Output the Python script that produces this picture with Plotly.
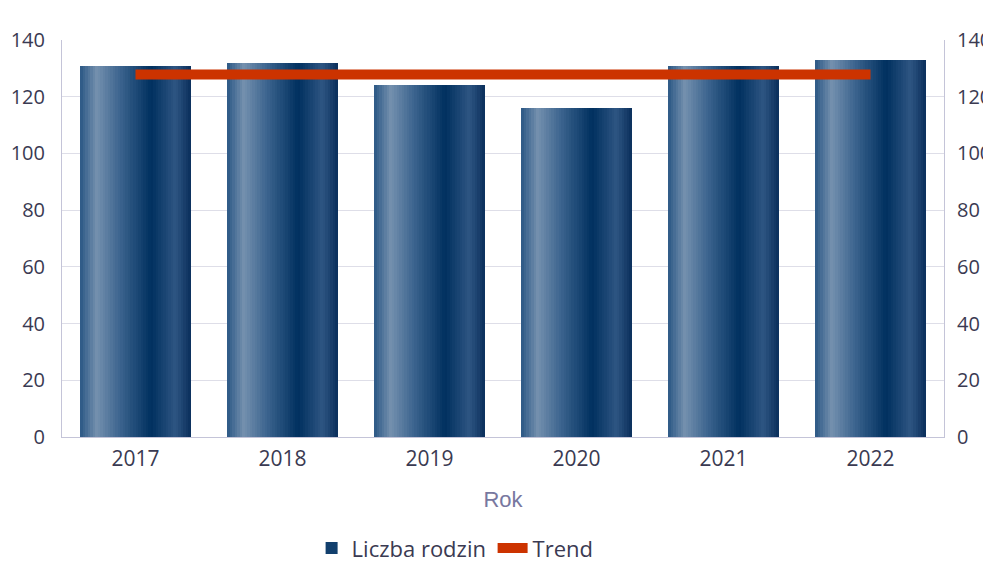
import plotly.graph_objects as go

years = ["2017", "2018", "2019", "2020", "2021", "2022"]
liczba_rodzin = [131, 132, 124, 116, 131, 133]
trend_value = round(sum(liczba_rodzin) / len(liczba_rodzin), 1)
trend_x = [years[0], years[-1]]
trend_y = [trend_value, trend_value]
y_ticks = [0, 20, 40, 60, 80, 100, 120, 140]

# gradient stops across the bar width (fraction, rgb)
stops = [
    (0.00, (44, 88, 133)),
    (0.15, (116, 144, 174)),
    (0.35, (62, 102, 144)),
    (0.64, (0, 48, 95)),
    (0.86, (46, 85, 130)),
    (1.00, (10, 47, 92)),
]


def grad(t):
    for (a, ca), (b, cb) in zip(stops[:-1], stops[1:]):
        if a <= t <= b:
            f = (t - a) / (b - a) if b > a else 0
            c = [round(ca[k] + (cb[k] - ca[k]) * f) for k in range(3)]
            return "rgb(%d,%d,%d)" % tuple(c)
    return "rgb(%d,%d,%d)" % stops[-1][1]


fig = go.Figure()
bar_w = 0.75
n = 44
step = bar_w / n
for i in range(n):
    off = -bar_w / 2 + i * step
    w = min(step * 1.6, bar_w / 2 - off)
    t = (i + 0.5) / n
    fig.add_trace(go.Bar(
        x=years, y=liczba_rodzin, width=w, offset=off,
        marker=dict(color=grad(t), line=dict(width=0)),
        name="Liczba rodzin", legendgroup="bars",
        showlegend=(i == int(n * 0.55)), hoverinfo="skip" if i else None,
    ))

fig.add_trace(go.Scatter(
    x=trend_x, y=trend_y, mode="lines", name="Trend",
    line=dict(color="#cc3300", width=10),
))
fig.add_trace(go.Scatter(
    x=trend_x, y=trend_y, mode="lines", yaxis="y2", showlegend=False,
    line=dict(color="rgba(0,0,0,0)", width=0), hoverinfo="skip",
))

tick_font = dict(family="Open Sans", size=20, color="#3a3a52")
fig.update_layout(
    width=983, height=554,
    margin=dict(l=54, r=47, t=32, b=125, autoexpand=False),
    paper_bgcolor="white", plot_bgcolor="white",
    barmode="overlay", bargap=0,
    font=dict(family="Open Sans", color="#3a3a52"),
    xaxis=dict(
        type="category", showline=True, linecolor="#c4c4d8", linewidth=1,
        showgrid=False, tickfont=dict(family="Open Sans", size=21, color="#3a3a52"),
        ticks="", ticklabelstandoff=3, automargin=False,
        title=dict(text="Rok", font=dict(family="Liberation Sans", size=22, color="#7878a0"), standoff=20),
    ),
    yaxis=dict(
        range=[0, 140], tickvals=y_ticks, showline=True, linecolor="#c4c4d8",
        linewidth=1, gridcolor="#dedee8", gridwidth=1, zeroline=False,
        tickfont=tick_font, ticklabelstandoff=12, automargin=False,
    ),
    yaxis2=dict(
        range=[0, 140], tickvals=y_ticks, overlaying="y", side="right",
        showline=True, linecolor="#c4c4d8", linewidth=1, showgrid=False,
        zeroline=False, tickfont=tick_font, ticklabelstandoff=8, automargin=False,
    ),
    legend=dict(
        orientation="h", x=0.283, xanchor="left", y=-0.28, yanchor="middle",
        font=dict(family="Open Sans", size=22, color="#3a3a52"),
        itemwidth=30, traceorder="normal", entrywidth=136, entrywidthmode="pixels",
    ),
)

fig.write_html("out.html")
